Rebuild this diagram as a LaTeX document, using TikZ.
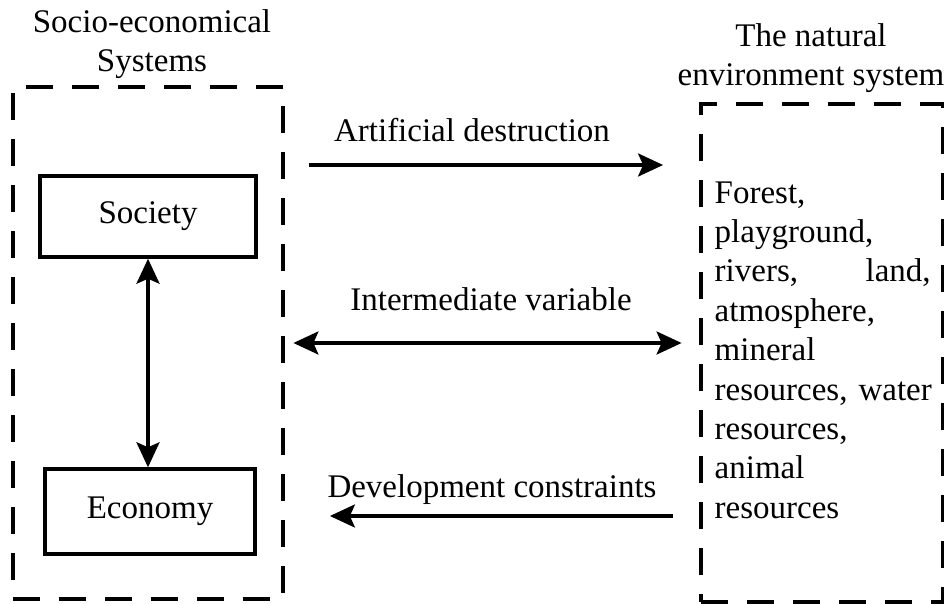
\documentclass[tikz,border=0pt]{standalone}
\usepackage{fontspec}
\setmainfont{Liberation Serif}
\usetikzlibrary{arrows.meta}
\begin{document}
\begin{tikzpicture}[x=1pt, y=-1pt, >={Stealth[length=25pt, width=23pt, inset=5pt]}, line width=3.4pt,
    every node/.style={font=\fontsize{33}{39.4}\selectfont, inner sep=0pt},
    sysbox/.style={draw, dash pattern=on 27pt off 19pt, line width=3.8pt},
    partbox/.style={draw, line width=3.4pt}]
    \useasboundingbox (0,0) rectangle (944,604);

    % 两个系统 (虚线框)
    \node[sysbox, minimum width=270pt, minimum height=512pt] (socsys) at (148,343) {};
    \node[sysbox, minimum width=242pt, minimum height=498pt] (natsys) at (822,353) {};

    % 标题 (base = 最后一行基线)
    \node[align=center, anchor=base] (socsys-title) at (152,72) {Socio-economical\\Systems};
    \node[align=center, anchor=base] (natsys-title) at (811,86) {The natural\\environment system};

    % 社会与经济
    \node[partbox, minimum width=216pt, minimum height=81pt] (society) at (148,216.5) {Society};
    \node[partbox, minimum width=210pt, minimum height=85pt] (economy) at (150,511.5) {Economy};
    \draw[<->] (society.south) -- (society.south |- economy.north);

    % 自然环境要素
    \node[anchor=base west, text width=216pt, align=left] (natsys-text) at (713,203)
        {Forest,\\playground,\\rivers,\hfill land,\\atmosphere,\\mineral\\\mbox{resources, water}\\resources,\\animal\\resources};

    % 两系统之间的作用
    \coordinate (row-ad) at (0,165);
    \coordinate (row-iv) at (0,343);
    \coordinate (row-dc) at (0,516);
    \draw[->, shorten <=24pt, shorten >=36pt] (socsys.east |- row-ad) -- (natsys.west |- row-ad);
    \draw[<->, shorten <=8.5pt, shorten >=17.5pt] (socsys.east |- row-iv) -- (natsys.west |- row-iv);
    \draw[->, shorten <=26.5pt, shorten >=45pt] (natsys.west |- row-dc) -- (socsys.east |- row-dc);

    \node[anchor=base] (lbl-ad) at (472,142) {Artificial destruction};
    \node[anchor=base] (lbl-iv) at (491,310) {Intermediate variable};
    \node[anchor=base] (lbl-dc) at (492,497) {Development constraints};
\end{tikzpicture}
\end{document}
